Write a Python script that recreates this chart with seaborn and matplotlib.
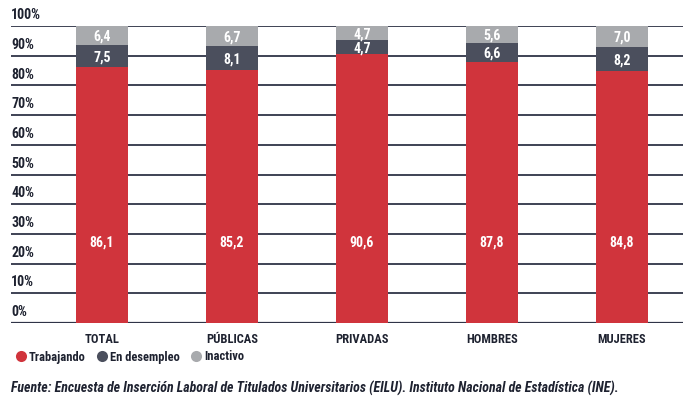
import matplotlib
matplotlib.use("Agg")
import matplotlib.pyplot as plt
import seaborn as sns
import pandas as pd
import numpy as np
from matplotlib.lines import Line2D

categories = ["TOTAL", "PÚBLICAS", "PRIVADAS", "HOMBRES", "MUJERES"]
trabajando = [86.1, 85.2, 90.6, 87.8, 84.8]
desempleo = [7.5, 8.1, 4.7, 6.6, 8.2]
inactivo = [6.4, 6.7, 4.7, 5.6, 7.0]
series_names = ["Trabajando", "En desempleo", "Inactivo"]
yticks = list(range(0, 101, 10))
source = "Fuente: Encuesta de Inserción Laboral de Titulados Universitarios (EILU). Instituto Nacional de Estadística (INE)."

colors = ["#d0343c", "#4b4f5d", "#a8aaad"]
FAM = ["Roboto Condensed", "Archivo Narrow", "Barlow Condensed", "DejaVu Sans"]

sns.set_theme(style="white")
plt.rcParams["font.family"] = FAM

fig = plt.figure(figsize=(6.83, 4.03), dpi=100)
ax = fig.add_axes([11/683, 1-323/403, 672/683, 297/403])

df = pd.DataFrame({"cat": categories, "Trabajando": trabajando,
                   "En desempleo": desempleo, "Inactivo": inactivo})
bottoms = np.zeros(len(categories))
for name, col in zip(series_names, colors):
    vals = df[name].values
    ax.bar(np.arange(len(categories)), vals, bottom=bottoms, width=0.4,
           color=col, edgecolor="none", zorder=3)
    for i, v in enumerate(vals):
        if name == "Trabajando":
            y = 27
        else:
            y = bottoms[i] + v / 2 - 0.5
        ax.text(i, y, f"{v:.1f}".replace(".", ","), ha="center", va="center",
                color="white", fontsize=10, fontweight="bold", zorder=4)
    bottoms = bottoms + vals

# gridlines with labels above
for t in yticks:
    ax.axhline(t, color="#2f3447", lw=1.3 if t else 1.6, zorder=1)
    ax.text(0, t + 1.3, f"{t}%", transform=ax.get_yaxis_transform(),
            ha="left", va="bottom", fontsize=10, fontweight="bold", color="#1e2230")

ax.set_xlim(-0.70, 4.47)
ax.set_ylim(0, 100)
ax.set_yticks([])
ax.set_xticks(range(len(categories)))
ax.set_xticklabels(categories, fontsize=9, fontweight="bold", color="#1e2230")
ax.tick_params(axis="x", length=0, pad=7)
sns.despine(ax=ax, left=True, bottom=True, top=True, right=True)

handles = [Line2D([0], [0], marker="o", color="none", markerfacecolor=c,
                  markeredgecolor="none", markersize=8) for c in colors]
leg = fig.legend(handles, series_names, loc="center left", bbox_to_anchor=(2/683, 1-357/403),
                 ncol=3, frameon=False, fontsize=9, handletextpad=0.05, columnspacing=0.7,
                 handlelength=1.2, labelcolor="#1e2230")
for txt in leg.get_texts():
    txt.set_fontweight("bold")

fig.text(11/683, 1-388/403, source, ha="left", va="center", fontsize=10,
         fontweight="bold", fontstyle="italic", color="#1e2230")

fig.savefig("out.png", dpi=100)
